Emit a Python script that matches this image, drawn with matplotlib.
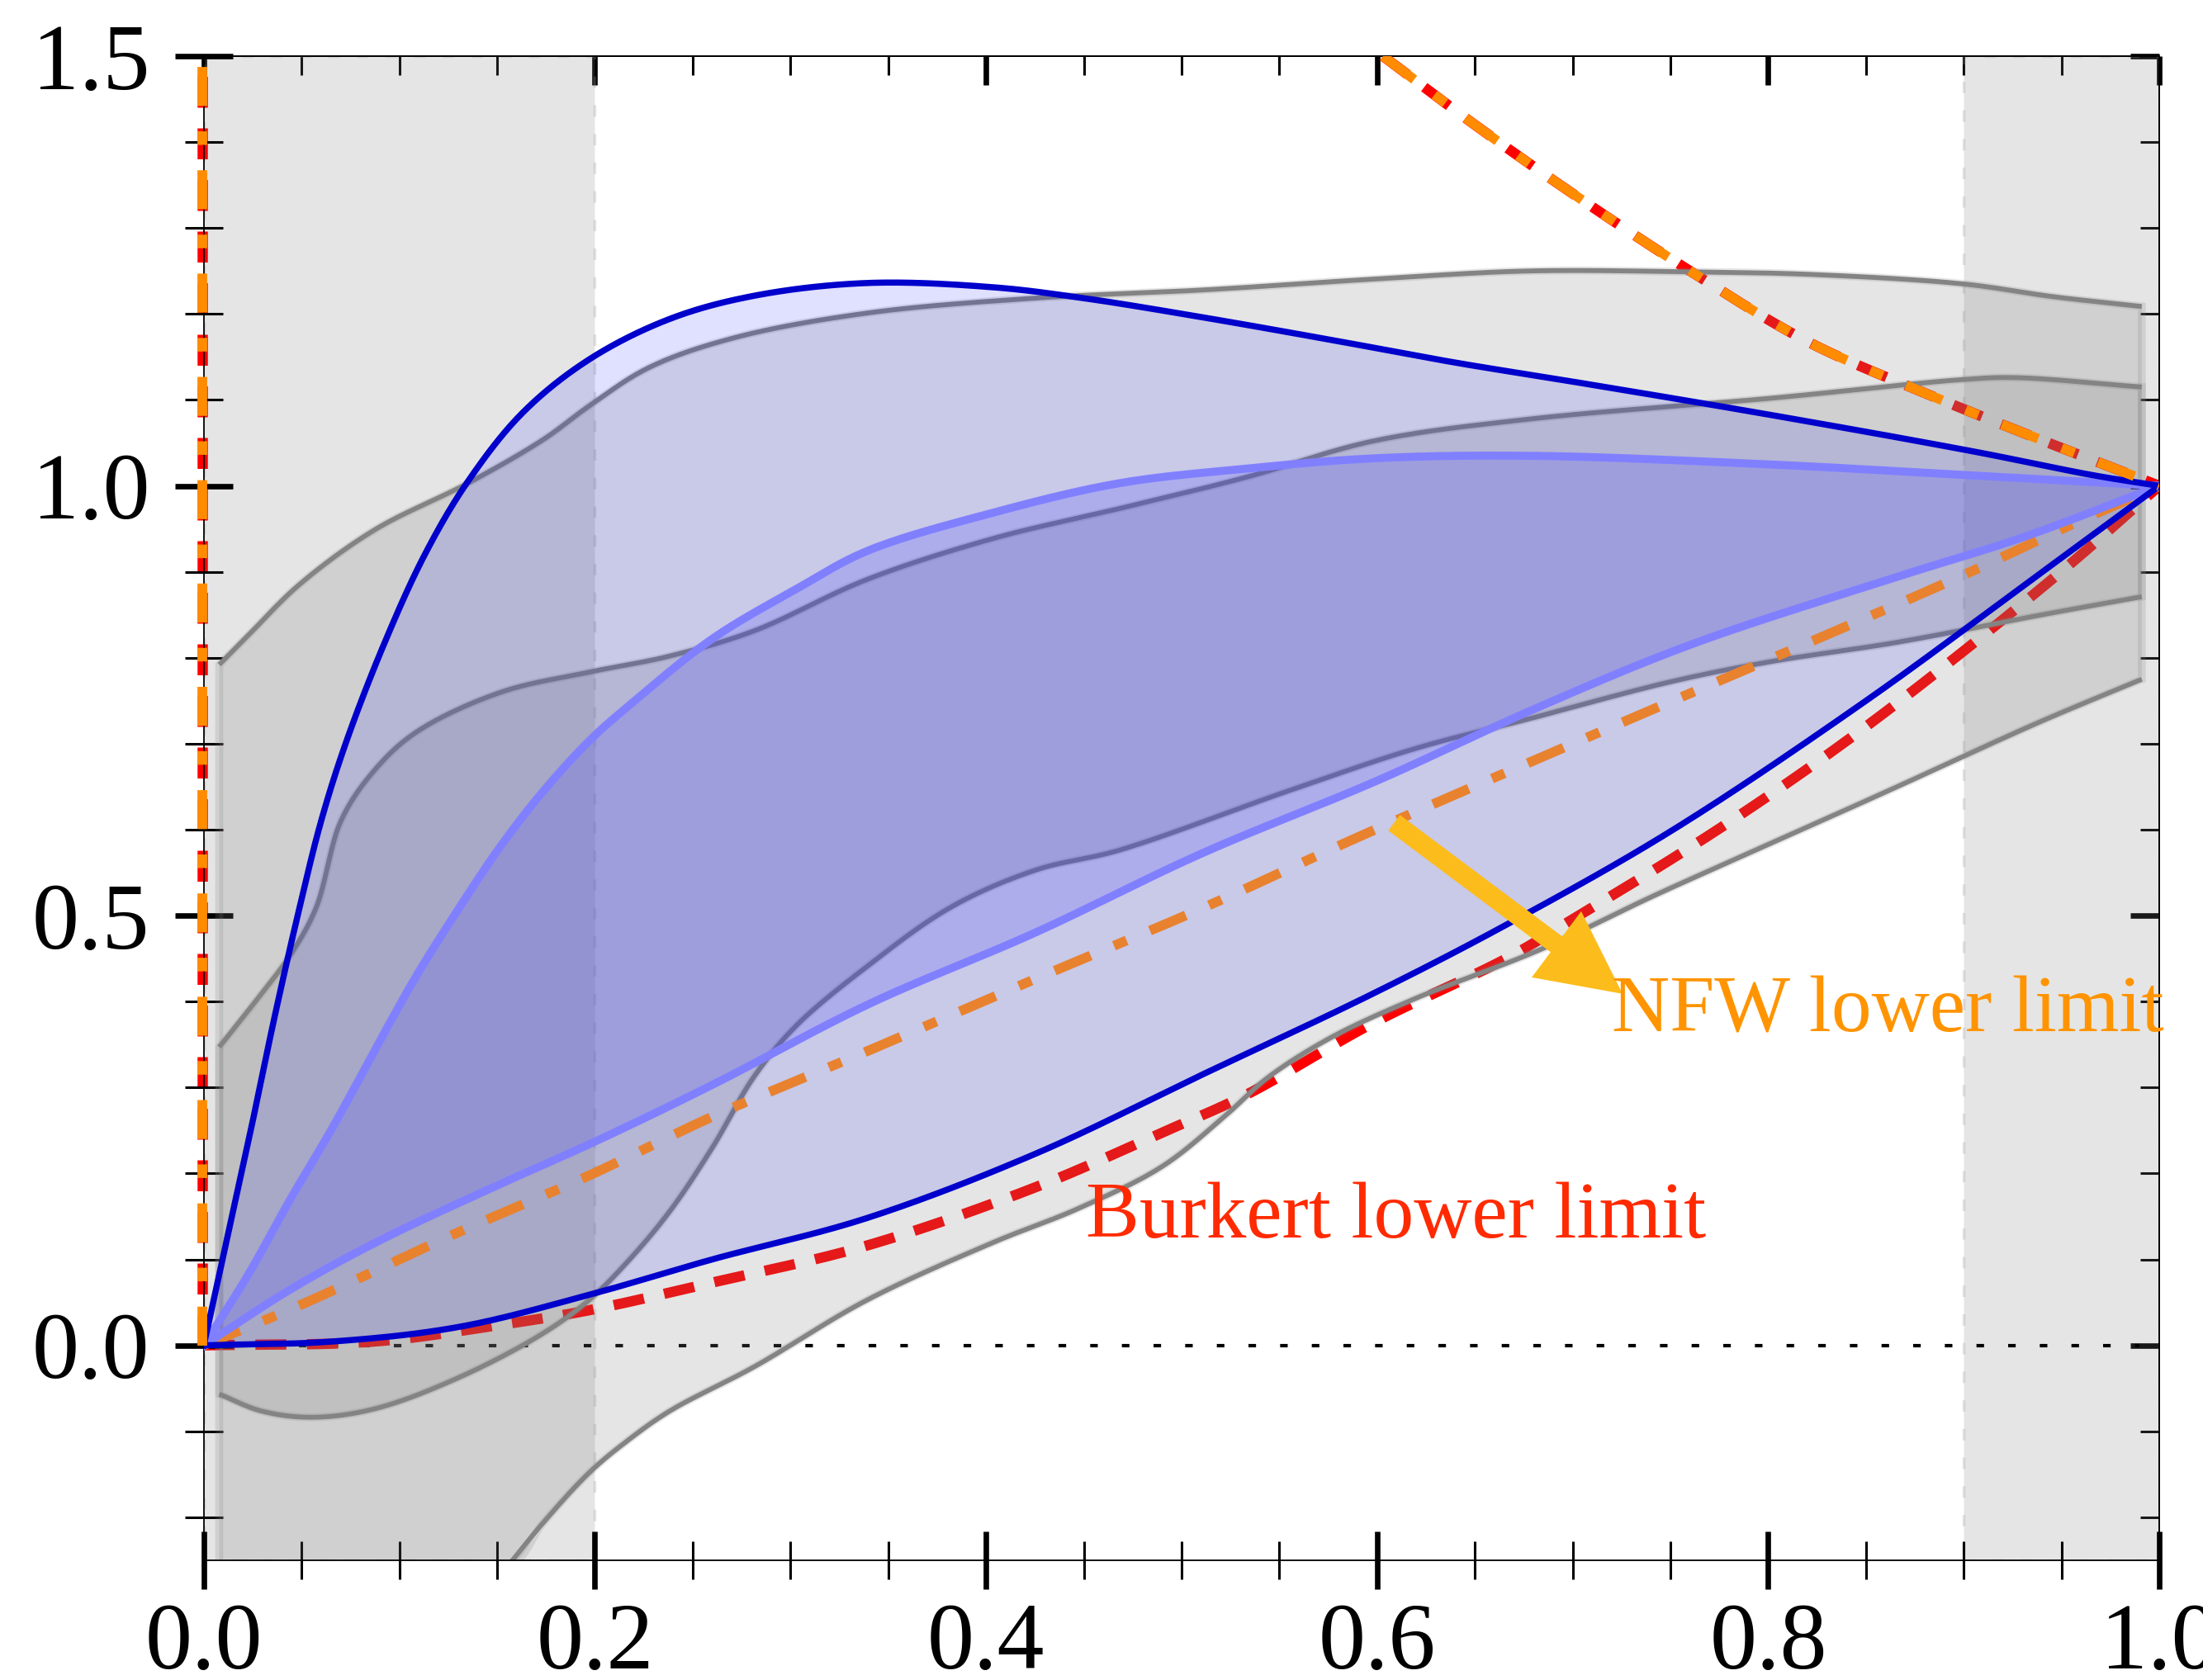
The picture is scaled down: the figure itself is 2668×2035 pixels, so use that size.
import numpy as np
import matplotlib
matplotlib.use("Agg")
import matplotlib.pyplot as plt
from matplotlib.ticker import MultipleLocator

plt.rcParams['font.family'] = ['Liberation Serif', 'DejaVu Serif']

# ---------------- data ----------------
# outer (dark blue) band
blue_out_hi_x = [0.0, 0.012, 0.024, 0.036, 0.048, 0.060, 0.0725, 0.092, 0.113, 0.135, 0.163, 0.197,
                 0.238, 0.281, 0.339, 0.404, 0.451, 0.511, 0.576, 0.641, 0.698, 0.80, 0.905, 0.967, 1.0]
blue_out_hi_y = [0.0, 0.125, 0.25, 0.38, 0.50, 0.61, 0.70, 0.815, 0.92, 1.005, 1.085, 1.147,
                 1.194, 1.221, 1.236, 1.231, 1.218, 1.196, 1.17, 1.143, 1.122, 1.083, 1.040, 1.012, 1.0]
blue_out_lo_x = [0.0, 0.066, 0.1306, 0.1974, 0.26, 0.339, 0.4254, 0.5115, 0.5977, 0.6666, 0.75, 0.85, 0.936, 1.0]
blue_out_lo_y = [0.0, 0.0045, 0.0215, 0.059, 0.10, 0.148, 0.223, 0.316, 0.409, 0.49, 0.598, 0.750, 0.893, 1.0]

# inner (light blue) band
blue_in_hi_x = [0.0, 0.0229, 0.0445, 0.066, 0.0919, 0.109, 0.1306, 0.152, 0.1737, 0.1974, 0.2167, 0.26,
                0.303, 0.339, 0.404, 0.468, 0.533, 0.598, 0.677, 0.80, 0.905, 1.0]
blue_in_hi_y = [0.0, 0.083, 0.171, 0.254, 0.362, 0.431, 0.509, 0.5815, 0.645, 0.704, 0.743, 0.822,
                0.880, 0.924, 0.969, 1.003, 1.020, 1.032, 1.035, 1.025, 1.012, 1.0]
blue_in_lo_x = [0.0, 0.045, 0.09, 0.15, 0.20, 0.26, 0.34, 0.425, 0.51, 0.60, 0.68, 0.76, 0.86, 0.93, 1.0]
blue_in_lo_y = [0.0, 0.066, 0.122, 0.186, 0.237, 0.303, 0.397, 0.48, 0.572, 0.657, 0.74, 0.815, 0.89, 0.94, 1.0]

# grey bands (outer and inner)
grey_out_hi_x = [0.0079, 0.0229, 0.0488, 0.0875, 0.135, 0.1737, 0.1974, 0.2276, 0.2707, 0.339, 0.4254,
                 0.5115, 0.5977, 0.677, 0.760, 0.822, 0.8995, 0.946, 0.991]
grey_out_hi_y = [0.792, 0.8265, 0.885, 0.949, 1.003, 1.054, 1.0935, 1.1376, 1.172, 1.201, 1.2185,
                 1.228, 1.2405, 1.250, 1.249, 1.246, 1.235, 1.220, 1.2087]
grey_out_lo_x = [0.0079, 0.1543, 0.1737, 0.1974, 0.2168, 0.2383, 0.2815, 0.339, 0.404, 0.447, 0.490,
                 0.5223, 0.5438, 0.576, 0.619, 0.684, 0.7403, 0.7825, 0.822, 0.866, 0.9375, 0.991]
grey_out_lo_y = [-0.26, -0.26, -0.206, -0.1475, -0.1107, -0.0764, -0.0249, 0.0525, 0.120, 0.159, 0.208,
                 0.267, 0.311, 0.3576, 0.403, 0.461, 0.5218, 0.565, 0.605, 0.65, 0.724, 0.775]
grey_in_hi_x = [0.0079, 0.025, 0.0445, 0.0574, 0.0703, 0.0875, 0.109, 0.152, 0.1974, 0.2383, 0.2815,
                0.339, 0.404, 0.468, 0.533, 0.5977, 0.677, 0.8015, 0.8995, 0.9256, 0.991]
grey_in_hi_y = [0.347, 0.396, 0.455, 0.509, 0.611, 0.6697, 0.714, 0.760, 0.7834, 0.802, 0.8314,
                0.891, 0.939, 0.9735, 1.010, 1.052, 1.0775, 1.102, 1.1237, 1.126, 1.115]
grey_in_lo_x = [0.0079, 0.0294, 0.0553, 0.0875, 0.1306, 0.1737, 0.1974, 0.2168, 0.2383, 0.26, 0.2815,
                0.303, 0.339, 0.3822, 0.4254, 0.468, 0.5545, 0.619, 0.677, 0.75, 0.8, 0.866, 0.94, 0.991]
grey_in_lo_y = [-0.0568, -0.0764, -0.0837, -0.0738, -0.0373, 0.0142, 0.0534, 0.0975, 0.156, 0.2298, 0.313,
                0.372, 0.4405, 0.510, 0.553, 0.576, 0.645, 0.694, 0.7285, 0.772, 0.795, 0.818, 0.85, 0.871]

# Burkert (red) and NFW (orange) limits
burkert_lo_x = [0.0, 0.0875, 0.152, 0.1974, 0.26, 0.339, 0.4254, 0.49, 0.533, 0.5977, 0.6666, 0.698,
                0.7755, 0.85, 0.946, 1.0]
burkert_lo_y = [0.0, 0.0045, 0.024, 0.041, 0.073, 0.116, 0.184, 0.2475, 0.2915, 0.3748, 0.4507, 0.493,
                0.602, 0.72, 0.893, 1.0]
nfw_lo_x = [0.0, 0.051, 0.1306, 0.1974, 0.26, 0.339, 0.4254, 0.5115, 0.589, 0.698, 0.8967, 0.957, 1.0]
nfw_lo_y = [0.0, 0.0485, 0.132, 0.198, 0.266, 0.342, 0.4265, 0.5095, 0.590, 0.698, 0.893, 0.957, 1.0]
upper_left_x = [-0.0008, -0.0008]
upper_left_y = [0.0, 1.5]
upper_right_x = [0.603, 0.65, 0.70, 0.76, 0.82, 0.88, 0.94, 1.0]
upper_right_y = [1.5, 1.42, 1.34, 1.25, 1.168, 1.108, 1.053, 1.0]

# shaded x ranges, ticks and labels
span_ranges = [(0.0, 0.2), (0.9, 1.0)]
xticks = [0.0, 0.2, 0.4, 0.6, 0.8, 1.0]
xticklabels = ['0.0', '0.2', '0.4', '0.6', '0.8', '1.0']
yticks = [0.0, 0.5, 1.0, 1.5]
yticklabels = ['0.0', '0.5', '1.0', '1.5']

burkert_label = ('Burkert lower limit', 0.451, 0.125)
nfw_label = ('NFW lower limit', 0.720, 0.365)
arrow_tail = (0.6087, 0.608)
arrow_head = (0.7255, 0.409)


def smooth(xs, ys, n=20, ky=0.44):
    """Centripetal Catmull-Rom curve through the read points (for drawing only)."""
    P = np.column_stack([np.asarray(xs, float), np.asarray(ys, float) * ky])
    if len(P) < 3:
        return P[:, 0], P[:, 1] / ky
    P = np.vstack([2 * P[0] - P[1], P, 2 * P[-1] - P[-2]])
    out = []
    for i in range(1, len(P) - 2):
        p0, p1, p2, p3 = P[i - 1], P[i], P[i + 1], P[i + 2]
        t0 = 0.0
        t1 = t0 + max(np.linalg.norm(p1 - p0), 1e-9) ** 0.5
        t2 = t1 + max(np.linalg.norm(p2 - p1), 1e-9) ** 0.5
        t3 = t2 + max(np.linalg.norm(p3 - p2), 1e-9) ** 0.5
        t = np.linspace(t1, t2, n, endpoint=False)[:, None]
        A1 = (t1 - t) / (t1 - t0) * p0 + (t - t0) / (t1 - t0) * p1
        A2 = (t2 - t) / (t2 - t1) * p1 + (t - t1) / (t2 - t1) * p2
        A3 = (t3 - t) / (t3 - t2) * p2 + (t - t2) / (t3 - t2) * p3
        B1 = (t2 - t) / (t2 - t0) * A1 + (t - t0) / (t2 - t0) * A2
        B2 = (t3 - t) / (t3 - t1) * A2 + (t - t1) / (t3 - t1) * A3
        out.append((t2 - t) / (t2 - t1) * B1 + (t - t1) / (t2 - t1) * B2)
    out.append(P[-2][None, :])
    R = np.vstack(out)
    return R[:, 0], R[:, 1] / ky


# ---------------- figure ----------------
fig = plt.figure(figsize=(26.68, 20.35), dpi=100)
ax = fig.add_axes([0.0925, 0.0713, 0.8877, 0.8953])
ax.set_xlim(0, 1)
ax.set_ylim(-0.25, 1.5)

for (a, b) in span_ranges:
    ax.axvspan(a, b, facecolor=(0.5, 0.5, 0.5, 0.2), edgecolor=(0.6, 0.6, 0.6, 0.25),
               lw=2.5, ls=(0, (4, 6)), zorder=0.5)

ax.axhline(0.0, 0.0, 0.99, color='black', lw=3.0, dashes=(2.2, 7.0), zorder=1)

# red limits (below grey bands)
dash_red = (3.0, 2.0)
RED_LW = 9.0
ax.plot(*smooth(burkert_lo_x, burkert_lo_y), color='#ff0000', lw=RED_LW, dashes=dash_red, zorder=1.5)
ax.plot(upper_left_x, upper_left_y, color='#ff0000', lw=RED_LW, dashes=dash_red, zorder=1.5, clip_on=False)
ax.plot(*smooth(upper_right_x, upper_right_y), color='#ff0000', lw=RED_LW, dashes=dash_red, zorder=1.5)

# grey bands
def band(xh, yh, xl, yl, z):
    sxh, syh = smooth(xh, yh)
    sxl, syl = smooth(xl, yl)
    px = np.concatenate([sxh, sxl[::-1]])
    py = np.concatenate([syh, syl[::-1]])
    ax.fill(px, py, facecolor=(0.5, 0.5, 0.5, 0.2), edgecolor=(0.5, 0.5, 0.5, 0.2), lw=7, zorder=z)

band(grey_out_hi_x, grey_out_hi_y, grey_out_lo_x, grey_out_lo_y, 2)
band(grey_in_hi_x, grey_in_hi_y, grey_in_lo_x, grey_in_lo_y, 2)
for xs, ys in [(grey_out_hi_x, grey_out_hi_y), (grey_out_lo_x[1:], grey_out_lo_y[1:]),
               (grey_in_hi_x, grey_in_hi_y), (grey_in_lo_x, grey_in_lo_y)]:
    ax.plot(*smooth(xs, ys), color='#848484', lw=4.2, zorder=2.2, solid_capstyle='butt')

# blue bands
bx1, by1 = smooth(blue_out_hi_x, blue_out_hi_y)
bx2, by2 = smooth(blue_out_lo_x, blue_out_lo_y)
ix1, iy1 = smooth(blue_in_hi_x, blue_in_hi_y)
ix2, iy2 = smooth(blue_in_lo_x, blue_in_lo_y)
ax.fill(np.concatenate([bx1, bx2[::-1]]), np.concatenate([by1, by2[::-1]]),
        facecolor=(0, 0, 1, 0.12), edgecolor='none', zorder=3)
ax.fill(np.concatenate([ix1, ix2[::-1]]), np.concatenate([iy1, iy2[::-1]]),
        facecolor=(0.25, 0.25, 1, 0.2), edgecolor='none', zorder=3.1)
ax.plot(ix1, iy1, color='#8080ff', lw=7, zorder=3.5)
ax.plot(ix2, iy2, color='#8080ff', lw=7, zorder=3.5)
ax.plot(bx1, by1, color='#0000cc', lw=5.4, zorder=4)
ax.plot(bx2, by2, color='#0000cc', lw=5.4, zorder=4)

# NFW (orange) limits
dash_or = (4.0, 2.6, 1.4, 2.6)
OR_LW = 8.5
ax.plot(*smooth(nfw_lo_x, nfw_lo_y), color='#e8822e', lw=OR_LW, dashes=dash_or, zorder=3.3)
ax.plot(upper_left_x, upper_left_y, color='#ff8c00', lw=OR_LW, dashes=dash_or, zorder=4.5, clip_on=False)
ax.plot(*smooth(upper_right_x, upper_right_y), color='#ff8c00', lw=OR_LW, dashes=dash_or, zorder=4.5)

# annotations
ax.annotate('', xy=arrow_head, xytext=arrow_tail,
            arrowprops=dict(width=17, headwidth=72, headlength=72, shrink=0.0,
                            facecolor='#fcbc1c', edgecolor='none'), zorder=6)
ax.text(burkert_label[1], burkert_label[2], burkert_label[0], color='#ff2a00', fontsize=70, zorder=6)
ax.text(nfw_label[1], nfw_label[2], nfw_label[0], color='#ff9400', fontsize=70, zorder=6)

# ticks
ax.set_xticks(xticks)
ax.set_xticklabels(xticklabels)
ax.set_yticks(yticks)
ax.set_yticklabels(yticklabels)
ax.xaxis.set_minor_locator(MultipleLocator(0.05))
ax.yaxis.set_minor_locator(MultipleLocator(0.1))
ax.tick_params(which='major', direction='inout', length=50, width=4.8, labelsize=82)
ax.tick_params(which='minor', direction='inout', length=33, width=2.2)
ax.tick_params(axis='x', which='major', pad=12)
ax.tick_params(axis='y', which='major', pad=22)
for s in ax.spines.values():
    s.set_linewidth(1.3)

top = ax.secondary_xaxis('top')
top.set_xticks(xticks)
top.set_xticklabels([])
top.xaxis.set_minor_locator(MultipleLocator(0.05))
top.tick_params(which='major', direction='in', length=25, width=4.8)
top.tick_params(which='minor', direction='in', length=16.5, width=2.2)
right = ax.secondary_yaxis('right')
right.set_yticks(yticks)
right.set_yticklabels([])
right.yaxis.set_minor_locator(MultipleLocator(0.1))
right.tick_params(which='major', direction='in', length=25, width=4.8)
right.tick_params(which='minor', direction='in', length=16.5, width=2.2)
for sec in (top, right):
    for s in sec.spines.values():
        s.set_linewidth(1.3)

fig.savefig('out.png', dpi=100)
